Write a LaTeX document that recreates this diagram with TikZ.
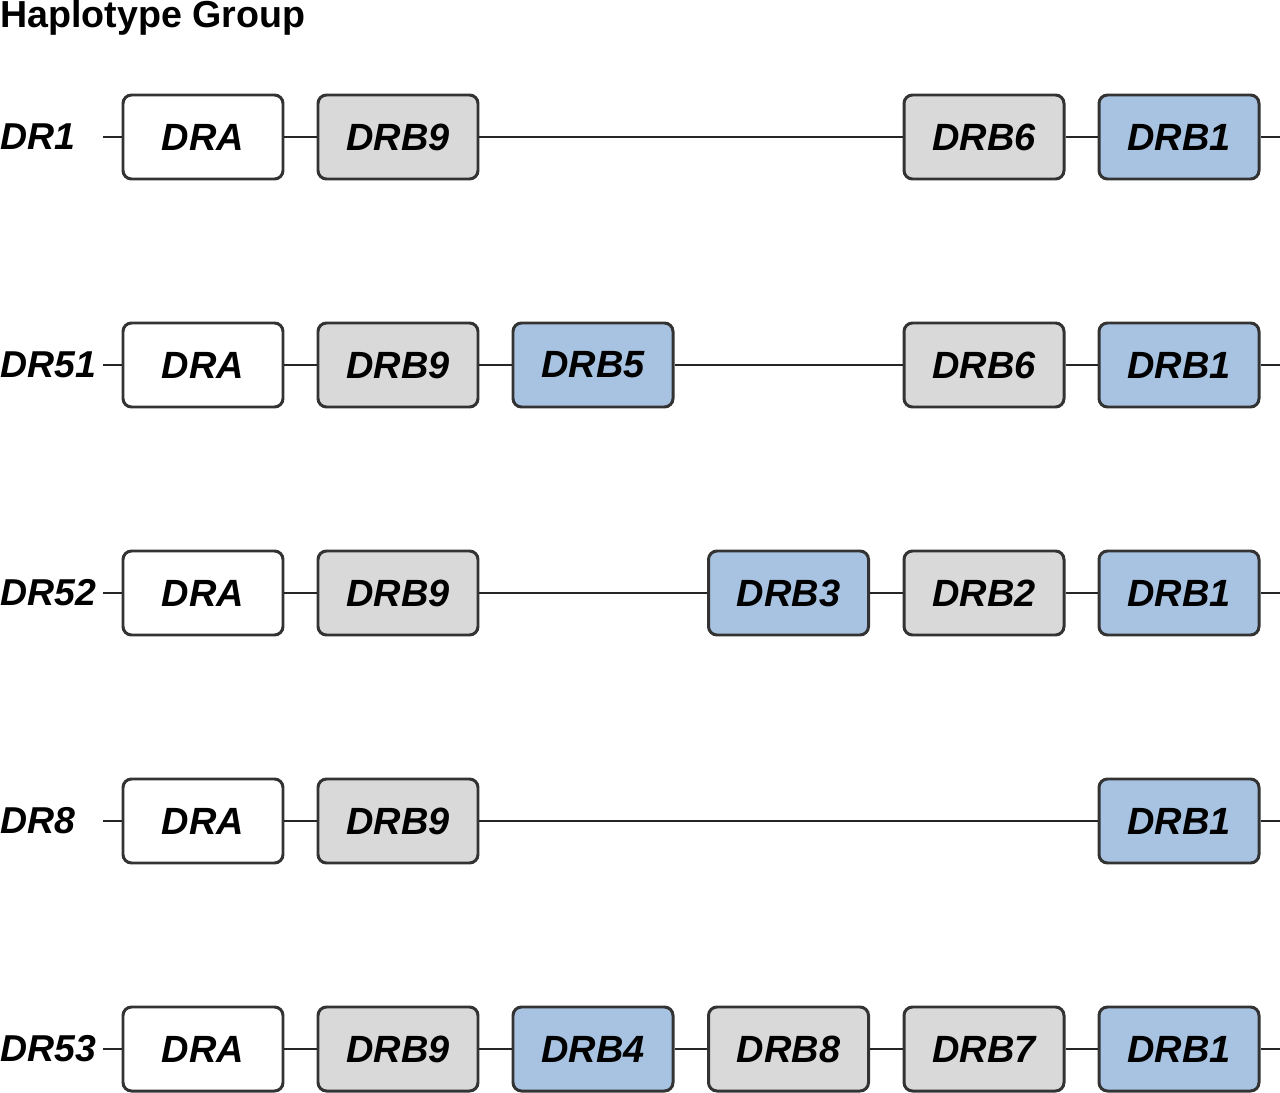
\documentclass[tikz,border=0pt]{standalone}
\usepackage{xcolor}
\usepackage{fontspec}
\setmainfont{Liberation Sans}
\usepackage{tikz}

\definecolor{edgegray}{HTML}{333333}
\definecolor{genegray}{HTML}{D9D9D9}
\definecolor{geneblue}{HTML}{A7C3E1}

\tikzset{
  gene/.style={draw=edgegray, line width=1.7pt, rounded corners=0.17cm,
    minimum width=3.2cm, minimum height=1.68cm, inner sep=0pt,
    font=\fontsize{21.6}{24}\selectfont\bfseries\itshape},
  alpha/.style={gene, fill=white},
  pseudo/.style={gene, fill=genegray},
  beta/.style={gene, fill=geneblue},
  haplo/.style={anchor=west, inner sep=0pt, font=\fontsize{21.3}{24}\selectfont\bfseries\itshape},
  link/.style={draw=black!85, line width=1.5pt}
}

\begin{document}
\begin{tikzpicture}
  \useasboundingbox (0,0) rectangle (25.6,-21.86);

  \node (title) [anchor=north west, inner sep=0pt, font=\fontsize{21.4}{24}\selectfont\bfseries] at (0,0) {Haplotype Group};

  % DR1
  \node (dr1) [haplo] at (0,-2.74) {DR1};
  \coordinate (dr1s) at (2.06,-2.74);
  \coordinate (dr1e) at (25.6,-2.74);
  \node (dr1a) [alpha] at (4.06,-2.74) {DRA};
  \node (dr1b9) [pseudo] at (7.96,-2.74) {DRB9};
  \node (dr1b6) [pseudo] at (19.68,-2.74) {DRB6};
  \node (dr1b1) [beta] at (23.58,-2.74) {DRB1};
  \draw [link] (dr1s) -- (dr1a);
  \draw [link] (dr1a) -- (dr1b9);
  \draw [link] (dr1b9) -- (dr1b6);
  \draw [link] (dr1b6) -- (dr1b1);
  \draw [link] (dr1b1) -- (dr1e);

  % DR51
  \node (dr51) [haplo] at (0,-7.30) {DR51};
  \coordinate (dr51s) at (2.06,-7.30);
  \coordinate (dr51e) at (25.6,-7.30);
  \node (dr51a) [alpha] at (4.06,-7.30) {DRA};
  \node (dr51b9) [pseudo] at (7.96,-7.30) {DRB9};
  \node (dr51b5) [beta] at (11.86,-7.30) {DRB5};
  \node (dr51b6) [pseudo] at (19.68,-7.30) {DRB6};
  \node (dr51b1) [beta] at (23.58,-7.30) {DRB1};
  \draw [link] (dr51s) -- (dr51a);
  \draw [link] (dr51a) -- (dr51b9);
  \draw [link] (dr51b9) -- (dr51b5);
  \draw [link] (dr51b5) -- (dr51b6);
  \draw [link] (dr51b6) -- (dr51b1);
  \draw [link] (dr51b1) -- (dr51e);

  % DR52
  \node (dr52) [haplo] at (0,-11.86) {DR52};
  \coordinate (dr52s) at (2.06,-11.86);
  \coordinate (dr52e) at (25.6,-11.86);
  \node (dr52a) [alpha] at (4.06,-11.86) {DRA};
  \node (dr52b9) [pseudo] at (7.96,-11.86) {DRB9};
  \node (dr52b3) [beta] at (15.77,-11.86) {DRB3};
  \node (dr52b2) [pseudo] at (19.68,-11.86) {DRB2};
  \node (dr52b1) [beta] at (23.58,-11.86) {DRB1};
  \draw [link] (dr52s) -- (dr52a);
  \draw [link] (dr52a) -- (dr52b9);
  \draw [link] (dr52b9) -- (dr52b3);
  \draw [link] (dr52b3) -- (dr52b2);
  \draw [link] (dr52b2) -- (dr52b1);
  \draw [link] (dr52b1) -- (dr52e);

  % DR8
  \node (dr8) [haplo] at (0,-16.42) {DR8};
  \coordinate (dr8s) at (2.06,-16.42);
  \coordinate (dr8e) at (25.6,-16.42);
  \node (dr8a) [alpha] at (4.06,-16.42) {DRA};
  \node (dr8b9) [pseudo] at (7.96,-16.42) {DRB9};
  \node (dr8b1) [beta] at (23.58,-16.42) {DRB1};
  \draw [link] (dr8s) -- (dr8a);
  \draw [link] (dr8a) -- (dr8b9);
  \draw [link] (dr8b9) -- (dr8b1);
  \draw [link] (dr8b1) -- (dr8e);

  % DR53
  \node (dr53) [haplo] at (0,-20.98) {DR53};
  \coordinate (dr53s) at (2.06,-20.98);
  \coordinate (dr53e) at (25.6,-20.98);
  \node (dr53a) [alpha] at (4.06,-20.98) {DRA};
  \node (dr53b9) [pseudo] at (7.96,-20.98) {DRB9};
  \node (dr53b4) [beta] at (11.86,-20.98) {DRB4};
  \node (dr53b8) [pseudo] at (15.77,-20.98) {DRB8};
  \node (dr53b7) [pseudo] at (19.68,-20.98) {DRB7};
  \node (dr53b1) [beta] at (23.58,-20.98) {DRB1};
  \draw [link] (dr53s) -- (dr53a);
  \draw [link] (dr53a) -- (dr53b9);
  \draw [link] (dr53b9) -- (dr53b4);
  \draw [link] (dr53b4) -- (dr53b8);
  \draw [link] (dr53b8) -- (dr53b7);
  \draw [link] (dr53b7) -- (dr53b1);
  \draw [link] (dr53b1) -- (dr53e);
\end{tikzpicture}
\end{document}
